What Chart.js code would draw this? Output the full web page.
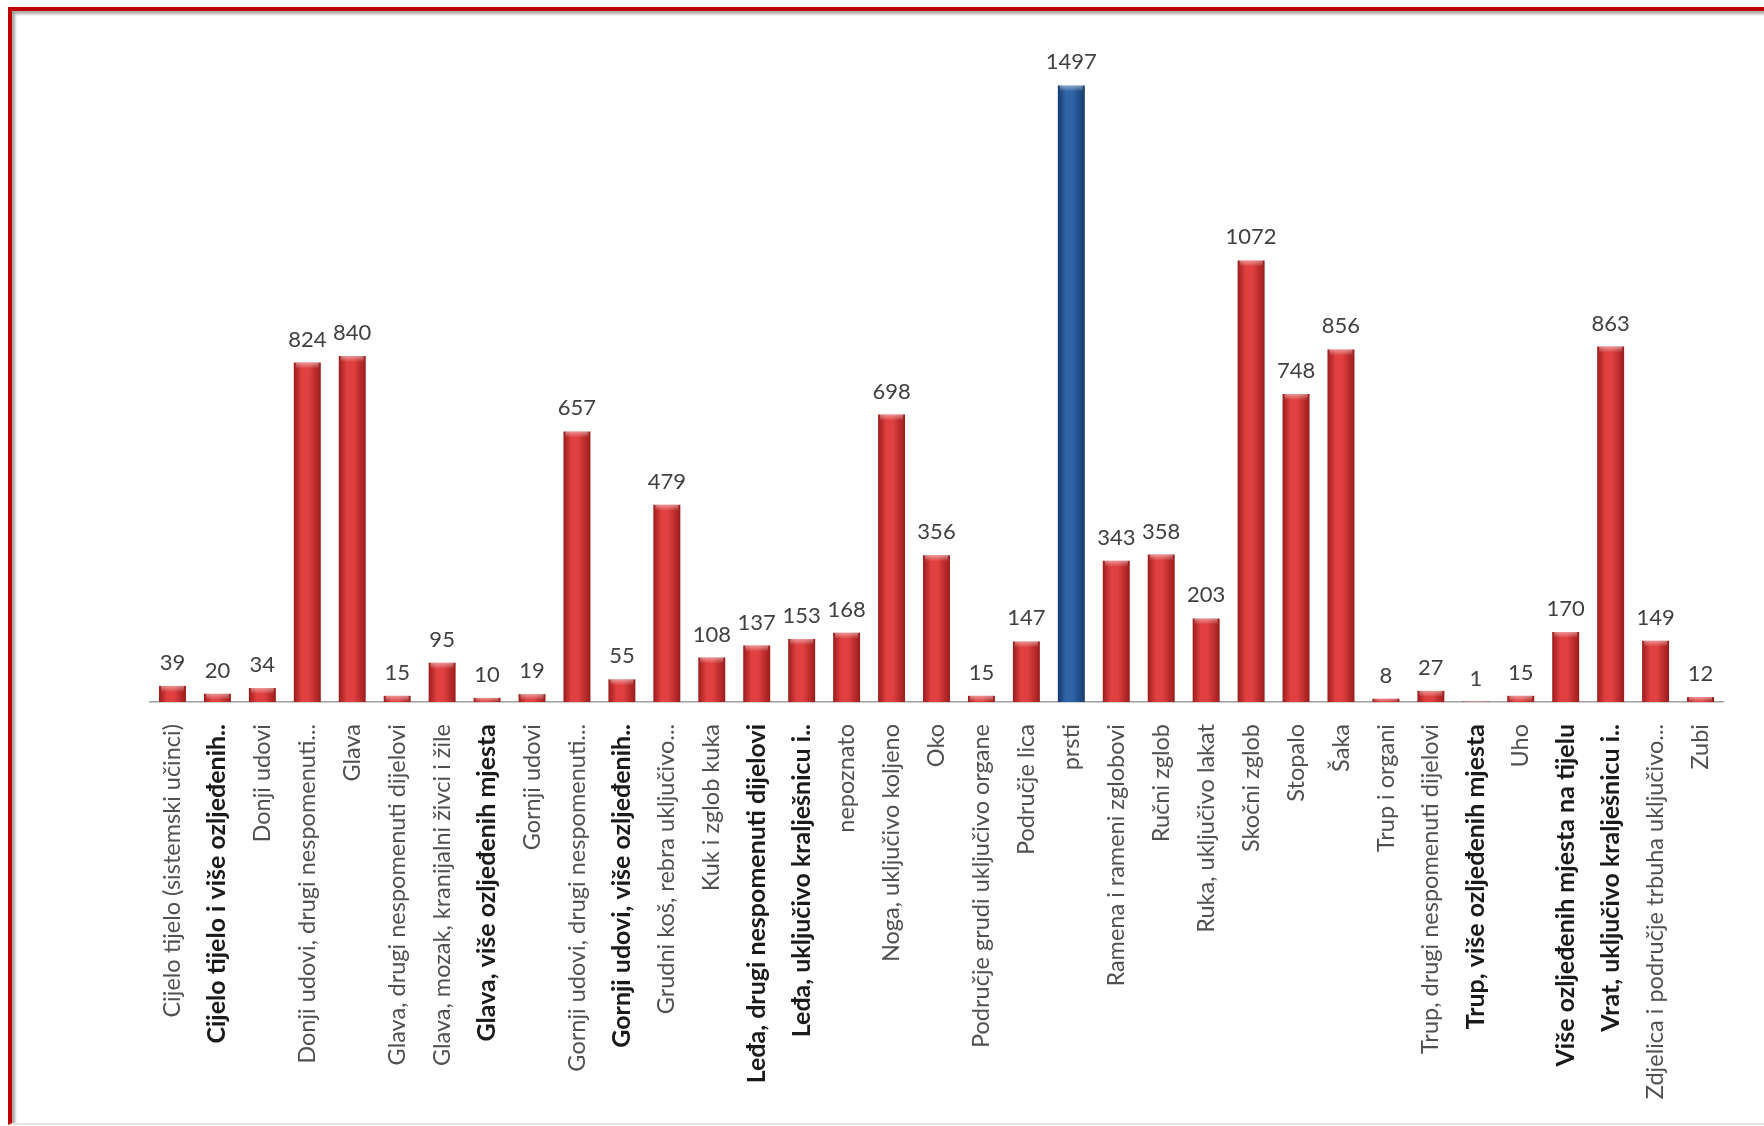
<!doctype html>
<html lang="hr">
<head>
    <meta charset="utf-8">
    <title>Ozljede po dijelu tijela</title>
    <style>
        html, body { margin: 0; padding: 0; background: #fff; }
        #frame {
            position: absolute;
            left: 8px; top: 7px;
            width: 1800px; height: 1112px;
            border-top: 4px solid #c00000;
            border-left: 4px solid #c00000;
            border-bottom: 2px solid #e4e4e4;
            box-shadow: inset 3px 3px 3px rgba(0, 0, 0, 0.35);
        }
        #wrap { position: absolute; left: 0; top: 0; width: 1764px; height: 1126px; overflow: hidden; }
        #chart { position: absolute; left: 0; top: 0; }
    </style>
</head>
<body>
    <div id="wrap">
        <div id="frame"></div>
        <canvas id="chart" width="1764" height="1126"></canvas>
    </div>

    <script src="https://cdn.jsdelivr.net/npm/chart.js@4.4.1/dist/chart.umd.min.js"></script>
    <script>
        // dijelovi tijela i broj ozljeda
        const categories = [
            'Cijelo tijelo (sistemski učinci)',
            'Cijelo tijelo i više ozljeđenih..',
            'Donji udovi',
            'Donji udovi, drugi nespomenuti...',
            'Glava',
            'Glava, drugi nespomenuti dijelovi',
            'Glava, mozak, kranijalni živci i žile',
            'Glava, više ozljeđenih mjesta',
            'Gornji udovi',
            'Gornji udovi, drugi nespomenuti...',
            'Gornji udovi, više ozljeđenih..',
            'Grudni koš, rebra uključivo...',
            'Kuk i zglob kuka',
            'Leđa, drugi nespomenuti dijelovi',
            'Leđa, uključivo kralješnicu i..',
            'nepoznato',
            'Noga, uključivo koljeno',
            'Oko',
            'Područje grudi uključivo organe',
            'Područje lica',
            'prsti',
            'Ramena i rameni zglobovi',
            'Ručni zglob',
            'Ruka, uključivo lakat',
            'Skočni zglob',
            'Stopalo',
            'Šaka',
            'Trup i organi',
            'Trup, drugi nespomenuti dijelovi',
            'Trup, više ozljeđenih mjesta',
            'Uho',
            'Više ozljeđenih mjesta na tijelu',
            'Vrat, uključivo kralješnicu i..',
            'Zdjelica i područje trbuha uključivo...',
            'Zubi'
        ];
        const values = [39, 20, 34, 824, 840, 15, 95, 10, 19, 657, 55, 479, 108, 137, 153, 168, 698, 356, 15, 147,
            1497, 343, 358, 203, 1072, 748, 856, 8, 27, 1, 15, 170, 863, 149, 12];

        // oznake koje su u izvorniku podebljane
        const boldLabels = [
            'Cijelo tijelo i više ozljeđenih..',
            'Glava, više ozljeđenih mjesta',
            'Gornji udovi, više ozljeđenih..',
            'Leđa, drugi nespomenuti dijelovi',
            'Leđa, uključivo kralješnicu i..',
            'Trup, više ozljeđenih mjesta',
            'Više ozljeđenih mjesta na tijelu',
            'Vrat, uključivo kralješnicu i..'
        ];
        const highlighted = ['prsti'];

        const yMax = 1600;
        const barPct = 0.6;
        const FONT = 'Lato, "Open Sans", sans-serif';

        const red = { edge: '#9c1c1c', mid: '#e04040' };
        const blue = { edge: '#173a6c', mid: '#2f64a8' };

        function barGradient(ctx) {
            const chart = ctx.chart;
            const pal = highlighted.includes(categories[ctx.dataIndex]) ? blue : red;
            const xs = chart.scales.x;
            if (!chart.chartArea || !xs || xs.width === 0) return pal.mid;
            const cx = xs.getPixelForValue(ctx.dataIndex);
            const w = (xs.width / categories.length) * barPct;
            const g = chart.ctx.createLinearGradient(cx - w / 2, 0, cx + w / 2, 0);
            g.addColorStop(0, pal.edge);
            g.addColorStop(0.3, pal.mid);
            g.addColorStop(0.55, pal.mid);
            g.addColorStop(1, pal.edge);
            return g;
        }

        // vrijednosti iznad stupaca + svijetli rub na vrhu
        const valueLabels = {
            id: 'valueLabels',
            afterDatasetsDraw(chart) {
                const c = chart.ctx;
                const meta = chart.getDatasetMeta(0);
                c.save();
                meta.data.forEach((bar, i) => {
                    const w = bar.width;
                    const h = Math.min(6, bar.base - bar.y);
                    if (h > 0) {
                        const g = c.createLinearGradient(0, bar.y, 0, bar.y + h);
                        g.addColorStop(0, 'rgba(255,255,255,0.45)');
                        g.addColorStop(1, 'rgba(255,255,255,0)');
                        c.fillStyle = g;
                        c.fillRect(bar.x - w / 2 + 2, bar.y, w - 4, h);
                    }
                    c.fillStyle = '#404040';
                    c.font = '22px ' + FONT;
                    c.textAlign = 'center';
                    c.textBaseline = 'alphabetic';
                    c.fillText(String(values[i]), bar.x, bar.y - 16);
                });
                c.restore();
            }
        };

        new Chart(document.getElementById('chart'), {
            type: 'bar',
            data: {
                labels: categories,
                datasets: [{
                    data: values,
                    backgroundColor: barGradient,
                    borderWidth: 0,
                    categoryPercentage: 1,
                    barPercentage: barPct
                }]
            },
            options: {
                responsive: false,
                animation: false,
                layout: { padding: { left: 150, right: 41, top: 43, bottom: 0 } },
                plugins: {
                    legend: { display: false },
                    tooltip: { enabled: false }
                },
                scales: {
                    x: {
                        grid: { display: false, drawTicks: false },
                        border: { display: true, color: '#a0a0a0', width: 1.5 },
                        afterFit(scale) { scale.height = 1126 - 702; },
                        ticks: {
                            autoSkip: false,
                            maxRotation: 90,
                            minRotation: 90,
                            padding: 22,
                            color: (ctx) => boldLabels.includes(categories[ctx.index]) ? '#1a1a1a' : '#505050',
                            font: (ctx) => boldLabels.includes(categories[ctx.index])
                                ? { family: FONT, size: 25, weight: 'bold' }
                                : { family: FONT, size: 23.5, weight: 'normal' }
                        }
                    },
                    y: {
                        display: false,
                        min: 0,
                        max: yMax
                    }
                }
            },
            plugins: [valueLabels]
        });
    </script>
</body>
</html>
